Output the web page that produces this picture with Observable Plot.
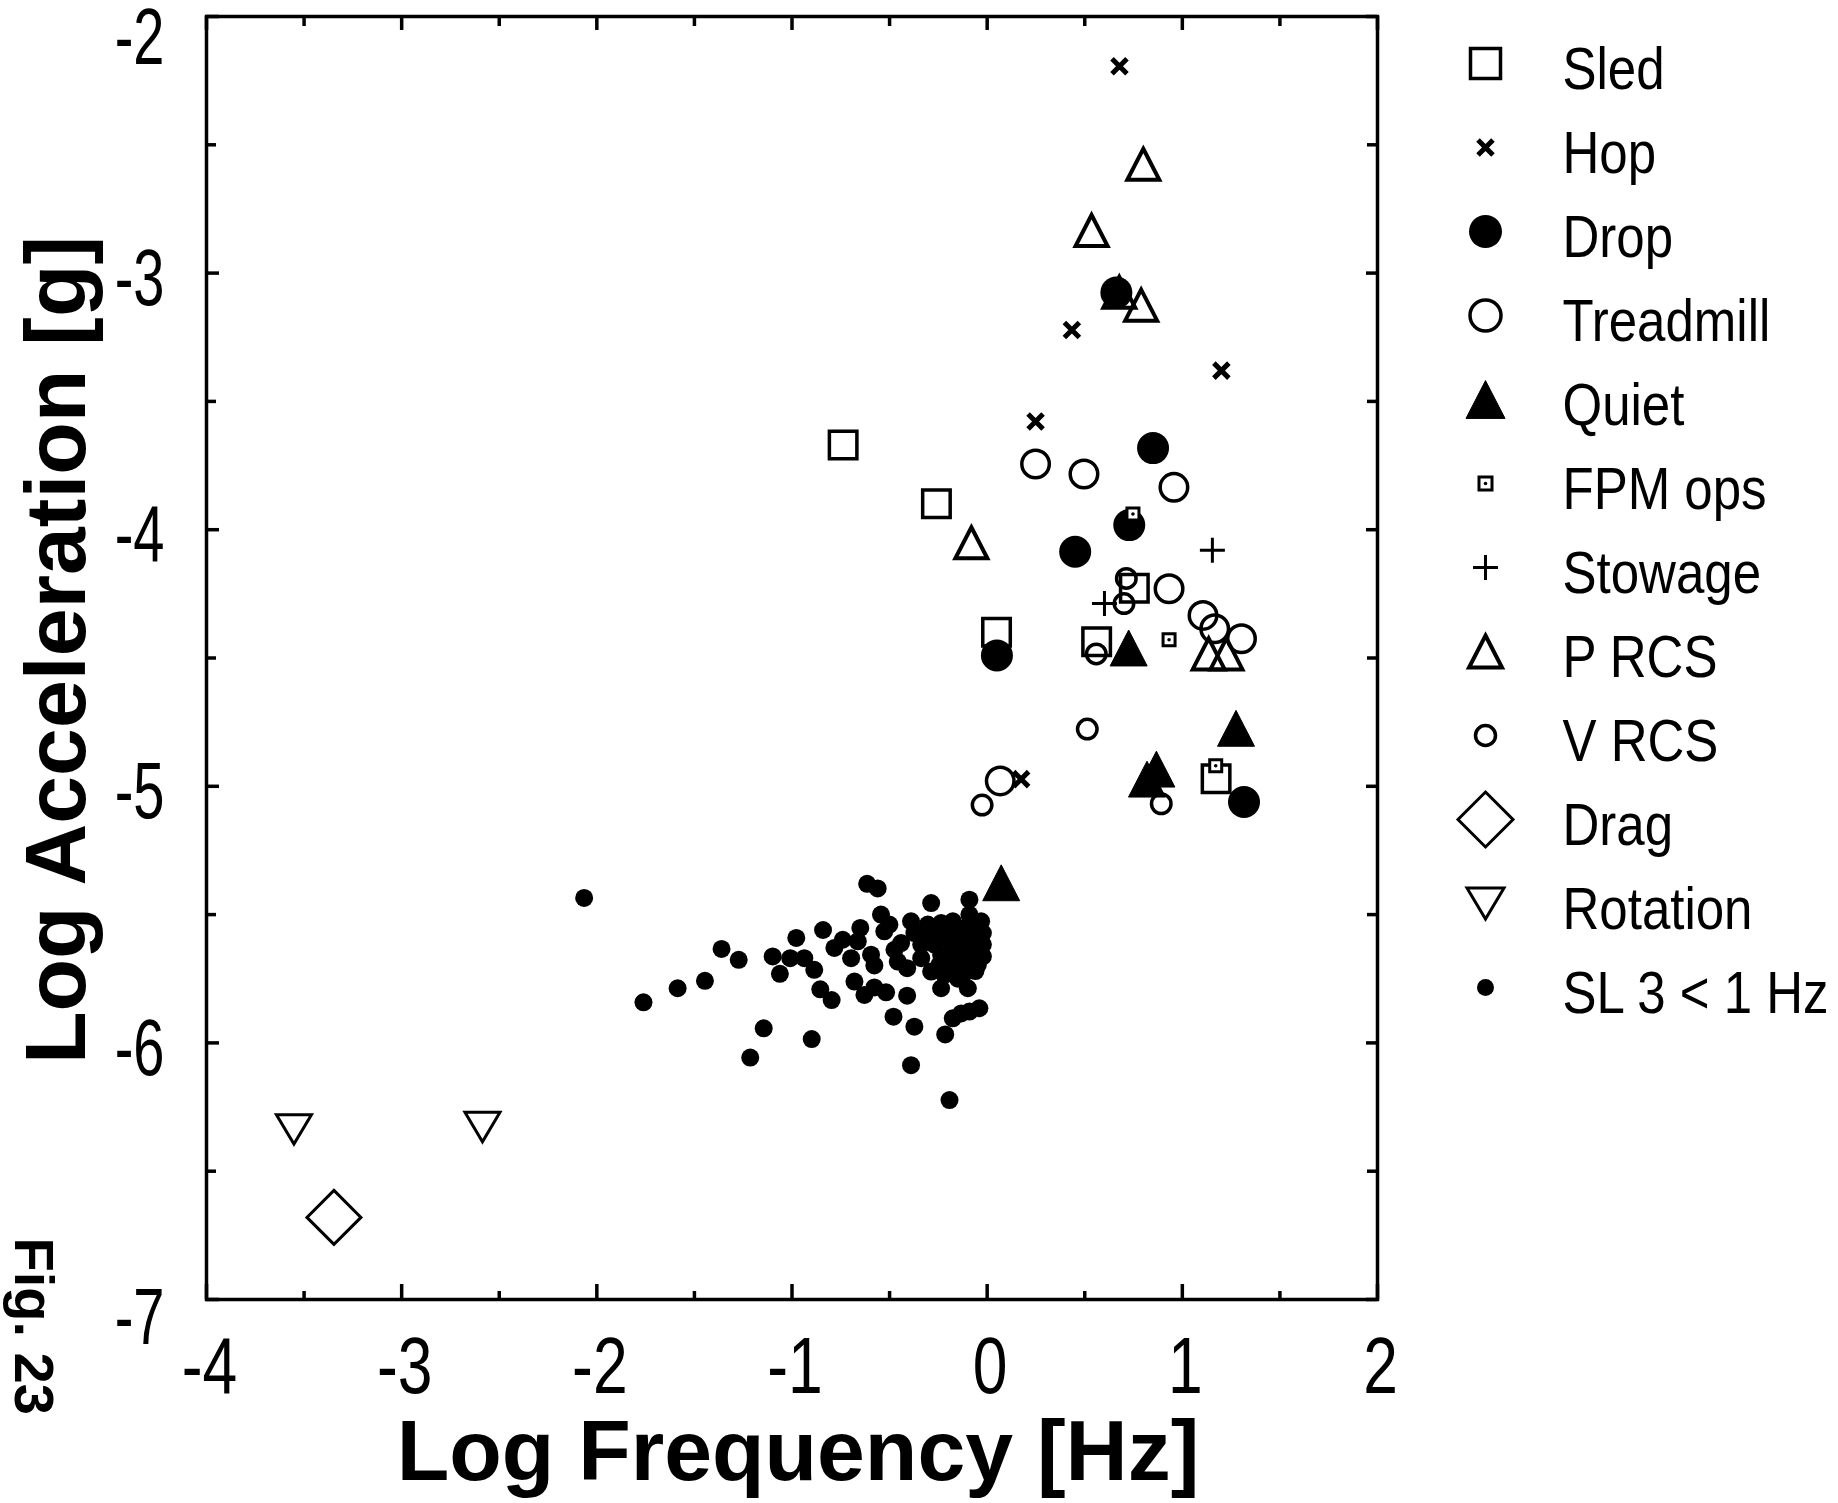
<!DOCTYPE html>
<html>
<head>
<meta charset="utf-8">
<script src="https://cdn.jsdelivr.net/npm/d3@7"></script>
<script src="https://cdn.jsdelivr.net/npm/@observablehq/plot@0.6"></script>
<style>
html, body { margin: 0; padding: 0; background: #fff; }
#wrap { position: relative; width: 1838px; height: 1503px; overflow: hidden; }
#main { position: absolute; left: 0; top: 0; }
#legend { position: absolute; left: 1400px; top: 0; }
</style>
</head>
<body>
<div id="wrap"><div id="main"></div><div id="legend"></div></div>
<script>
// ---------- data (log10 frequency [Hz], log10 acceleration [g]) ----------
const sled      = [[-0.738,-3.670],[-0.260,-3.899],[0.754,-4.228],[0.048,-4.400],[0.561,-4.437],[1.173,-4.971]];
const hop       = [[0.678,-2.194],[0.434,-3.222],[1.200,-3.380],[0.248,-3.578],[0.174,-4.972]];
const drop      = [[0.662,-3.076],[0.850,-3.682],[0.728,-3.982],[0.451,-4.086],[0.050,-4.490],[1.316,-5.061]];
const treadmill = [[0.248,-3.744],[0.496,-3.783],[0.957,-3.835],[0.932,-4.230],[1.106,-4.334],[1.166,-4.386],[1.303,-4.425],[0.067,-4.979]];
const quiet     = [[0.725,-4.461],[1.275,-4.774],[0.867,-4.933],[0.819,-4.972],[0.072,-5.376]];
const fpmOps    = [[0.747,-3.939],[0.932,-4.429],[1.171,-4.920]];
const stowage   = [[1.154,-4.080],[0.601,-4.288]];
const pRcs      = [[0.800,-2.576],[0.535,-2.834],[0.677,-3.075],[0.789,-3.125],[-0.081,-4.051],[1.135,-4.484],[1.226,-4.484]];
const vRcs      = [[0.713,-4.190],[0.701,-4.288],[0.559,-4.484],[0.513,-4.777],[-0.026,-5.073],[0.892,-5.068]];
const dragPts   = [[-3.347,-6.680]];
const rotation  = [[-3.552,-6.337],[-2.586,-6.328]];
const sl3       = [
 [-2.065,-5.435],[-1.761,-5.842],[-1.586,-5.787],[-1.446,-5.758],[-1.361,-5.634],[-1.273,-5.676],
 [-1.145,-5.943],[-1.214,-6.057],[-0.899,-5.985],[-1.099,-5.663],[-1.062,-5.731],[-1.009,-5.670],
 [-0.937,-5.670],[-0.886,-5.715],[-0.978,-5.591],[-0.841,-5.560],[-0.855,-5.791],[-0.797,-5.833],
 [-0.783,-5.630],[-0.740,-5.598],[-0.697,-5.670],[-0.650,-5.552],[-0.663,-5.604],[-0.680,-5.761],
 [-0.629,-5.813],[-0.578,-5.784],[-0.518,-5.803],[-0.595,-5.656],[-0.578,-5.698],[-0.615,-5.380],
 [-0.561,-5.398],[-0.544,-5.500],[-0.501,-5.539],[-0.527,-5.565],[-0.475,-5.637],[-0.458,-5.683],
 [-0.410,-5.709],[-0.410,-5.816],[-0.480,-5.898],[-0.373,-5.937],[-0.390,-6.087],[-0.193,-6.223],
 [-0.215,-5.967],[-0.176,-5.904],[-0.133,-5.885],[-0.091,-5.878],[-0.040,-5.865],[-0.236,-5.787],
 [-0.099,-5.787],[-0.287,-5.455],[-0.091,-5.442],[-0.091,-5.500],[-0.390,-5.526],[-0.373,-5.572],
 [-0.304,-5.539],[-0.236,-5.533],[-0.176,-5.526],[-0.031,-5.526],[-0.022,-5.572],[-0.022,-5.617],
 [-0.022,-5.663],[-0.048,-5.696],[-0.133,-5.709],[-0.219,-5.735],[-0.287,-5.722],[-0.338,-5.670],
 [-0.338,-5.617],[-0.270,-5.617],[-0.202,-5.591],[-0.133,-5.591],[-0.065,-5.604],[-0.236,-5.656],
 [-0.133,-5.656],[-0.441,-5.611],[-0.245,-5.696],
 [-0.160,-5.560],[-0.110,-5.550],[-0.060,-5.550],[-0.180,-5.620],[-0.100,-5.630],[-0.050,-5.640],
 [-0.170,-5.680],[-0.080,-5.680],[-0.260,-5.580],[-0.200,-5.710],[-0.150,-5.750],[-0.300,-5.590],
 [-0.060,-5.720],[-0.120,-5.730]
];

const legendLabels = ["Sled","Hop","Drop","Treadmill","Quiet","FPM ops","Stowage","P RCS","V RCS","Drag","Rotation","SL 3 < 1 Hz"];
const xTicks = [-4,-3,-2,-1,0,1,2];
const xTickLabels = ["-4","-3","-2","-1","0","1","2"];
const xMinor = [-3.5,-2.5,-1.5,-0.5,0.5,1.5];
const yTicks = [-2,-3,-4,-5,-6,-7];
const yTickLabels = ["-2","-3","-4","-5","-6","-7"];
const yMinor = [-2.5,-3.5,-4.5,-5.5,-6.5];
const xTitle = "Log Frequency [Hz]";
const yTitle = "Log Acceleration [g]";
const figNote = "Fig. 23";

// ---------- symbols ----------
const mk = f => ({draw(c, size) { f(c, Math.sqrt(size / Math.PI)); }});
const SYM = {
  square: mk((c, r) => { c.moveTo(-r,-r); c.lineTo(r,-r); c.lineTo(r,r); c.lineTo(-r,r); c.closePath(); }),
  times:  mk((c, r) => { c.moveTo(-r,-r); c.lineTo(r,r); c.moveTo(r,-r); c.lineTo(-r,r); }),
  plus:   mk((c, r) => { c.moveTo(-r,0); c.lineTo(r,0); c.moveTo(0,-r); c.lineTo(0,r); }),
  circle: mk((c, r) => { c.moveTo(r,0); c.arc(0,0,r,0,2*Math.PI); c.closePath(); }),
  diamond: mk((c, r) => { c.moveTo(0,-r); c.lineTo(r,0); c.lineTo(0,r); c.lineTo(-r,0); c.closePath(); }),
  triUp: a => mk((c, r) => { const h = r*a; c.moveTo(0,-h); c.lineTo(r,h); c.lineTo(-r,h); c.closePath(); }),
  triDown: a => mk((c, r) => { const h = r*a; c.moveTo(-r,-h); c.lineTo(r,-h); c.lineTo(0,h); c.closePath(); })
};

const series = [
  {label: legendLabels[11], data: sl3,       symbol: SYM.circle,        r: 9,     lr: 8.5,  fill: "black", sw: 0},
  {label: legendLabels[0],  data: sled,      symbol: SYM.square,        r: 13.75, lr: 15,   fill: "none",  sw: 3.5},
  {label: legendLabels[2],  data: drop,      symbol: SYM.circle,        r: 16,    lr: 16.5, fill: "black", sw: 0},
  {label: legendLabels[7],  data: pRcs,      symbol: SYM.triUp(0.97),   r: 16,    lr: 16.5, fill: "none",  sw: 4},
  {label: legendLabels[3],  data: treadmill, symbol: SYM.circle,        r: 13.75, lr: 15.5, fill: "none",  sw: 3.5},
  {label: legendLabels[8],  data: vRcs,      symbol: SYM.circle,        r: 9.75,  lr: 10,   fill: "none",  sw: 3.5},
  {label: legendLabels[4],  data: quiet,     symbol: SYM.triUp(0.97),   r: 18.5,  lr: 19.5, fill: "black", sw: 1},
  {label: legendLabels[5],  data: fpmOps,    symbol: SYM.square,        r: 6,     lr: 6.5,  fill: "white", sw: 3, innerDot: true},
  {label: legendLabels[6],  data: stowage,   symbol: SYM.plus,          r: 12.5,  lr: 12.5, fill: "none",  sw: 3},
  {label: legendLabels[1],  data: hop,       symbol: SYM.times,         r: 7.5,   lr: 7.5,  fill: "none",  sw: 5},
  {label: legendLabels[9],  data: dragPts,   symbol: SYM.diamond,       r: 27,    lr: 27.5, fill: "none",  sw: 3},
  {label: legendLabels[10], data: rotation,  symbol: SYM.triDown(0.84), r: 17.5,  lr: 18.5, fill: "none",  sw: 3}
];

// ---------- layout ----------
const W = 1838, H = 1503;
const mL = 206, mR = 461, mT = 16, mB = 204;
const innerW = W - mL - mR, innerH = H - mT - mB;
const sans = "'Liberation Sans',Arial,Helvetica,sans-serif";

function seriesMarks(s, opts) {
  const common = Object.assign({
    symbol: s.symbol, fill: s.fill, stroke: s.sw > 0 ? "black" : "none",
    strokeWidth: s.sw, strokeLinejoin: "miter", strokeLinecap: "butt"
  }, opts.pos);
  const m = [Plot.dot(opts.data, Object.assign({}, common, {r: opts.r}))];
  if (s.innerDot) m.push(Plot.dot(opts.data, Object.assign({}, opts.pos, {r: 1.8, fill: "black"})));
  return m;
}

// narrow (Helvetica-Narrow-like) look for non-bold texts
function condense(root, selector, factor) {
  d3.select(root).selectAll(selector).each(function() {
    if (this.closest('[font-weight="bold"]')) return;
    if (this.hasAttribute("textLength")) return;
    const w = this.getComputedTextLength();
    if (w > 0) {
      this.setAttribute("textLength", (w * factor).toFixed(1));
      this.setAttribute("lengthAdjust", "spacingAndGlyphs");
    }
  });
}

const fmtX = d => xTickLabels[xTicks.indexOf(d)];
const fmtY = d => yTickLabels[yTicks.indexOf(d)];
const yAxisOpts = dy => ({anchor: "left", tickSize: 0, tickPadding: 42, dy, tickFormat: fmtY, fontSize: 80, fontFamily: sans, label: null});

const marks = [];
for (const s of series) {
  marks.push(...seriesMarks(s, {data: s.data, r: s.r, pos: {x: d => d[0], y: d => d[1]}}));
}
const tickStyle = {stroke: "black", strokeWidth: 3.5};
marks.push(
  Plot.tickX(xTicks, {x: d => d, insetTop: innerH - 15, ...tickStyle}),
  Plot.tickX(xMinor, {x: d => d, insetTop: innerH - 8, ...tickStyle}),
  Plot.tickX(xTicks, {x: d => d, insetBottom: innerH - 14, ...tickStyle}),
  Plot.tickX(xMinor, {x: d => d, insetBottom: innerH - 10, ...tickStyle}),
  Plot.tickY(yTicks, {y: d => d, insetRight: innerW - 13, ...tickStyle}),
  Plot.tickY(yMinor, {y: d => d, insetRight: innerW - 10, ...tickStyle}),
  Plot.tickY(yTicks, {y: d => d, insetLeft: innerW - 11, ...tickStyle}),
  Plot.tickY(yMinor, {y: d => d, insetLeft: innerW - 10, ...tickStyle}),
  Plot.frame({stroke: "black", strokeWidth: 3.5}),
  Plot.axisX(xTicks, {anchor: "bottom", tickSize: 0, tickPadding: 37, dx: 3, tickFormat: fmtX, fontSize: 80, fontFamily: sans, label: null}),
  Plot.axisY([yTicks[0]], yAxisOpts(22)),
  Plot.axisY(yTicks.slice(1, 5), yAxisOpts(6)),
  Plot.axisY([yTicks[5]], yAxisOpts(19)),
  Plot.text([xTitle], {text: d => d, frameAnchor: "bottom", textAnchor: "middle", dx: 6, dy: 180, lineAnchor: "bottom",
    fontSize: 86, fontWeight: "bold", fontFamily: sans, fill: "black"}),
  Plot.text([yTitle], {text: d => d, frameAnchor: "left", textAnchor: "middle", rotate: -90, dx: -122, dy: -8, lineAnchor: "bottom",
    fontSize: 86, fontWeight: "bold", fontFamily: sans, fill: "black"}),
  Plot.text([figNote], {text: d => d, frameAnchor: "bottom-left", rotate: 90, textAnchor: "start", lineAnchor: "top",
    dx: -152, dy: -62, fontSize: 56, fontWeight: "bold", fontFamily: sans, fill: "black"})
);

const chart = Plot.plot({
  width: W, height: H,
  marginLeft: mL, marginRight: mR, marginTop: mT, marginBottom: mB,
  x: {domain: [-4, 2], axis: null},
  y: {domain: [-7, -2], axis: null},
  style: {background: "white", color: "black", fontFamily: sans, overflow: "visible"},
  marks
});
document.getElementById("main").appendChild(chart);
condense(chart, 'g[aria-label="y-axis tick label"] text', 0.7);
condense(chart, "text", 0.78);

// ---------- legend ----------
const legendMarks = [];
for (const s of series) {
  legendMarks.push(...seriesMarks(s, {data: [s.label], r: s.lr, pos: {y: d => d, frameAnchor: "left", dx: 85}}));
}
legendMarks.push(Plot.text(legendLabels, {y: d => d, text: d => d, frameAnchor: "left", dx: 162, dy: 6,
  textAnchor: "start", fontSize: 60, fontFamily: sans, fill: "black"}));

const legend = Plot.plot({
  width: 438, height: 1060, margin: 0,
  x: {axis: null},
  y: {type: "point", domain: legendLabels, range: [62, 988], padding: 0, axis: null},
  style: {background: "transparent", color: "black", fontFamily: sans, overflow: "visible"},
  marks: legendMarks
});
document.getElementById("legend").appendChild(legend);
condense(legend, "text", 0.85);
</script>
</body>
</html>
